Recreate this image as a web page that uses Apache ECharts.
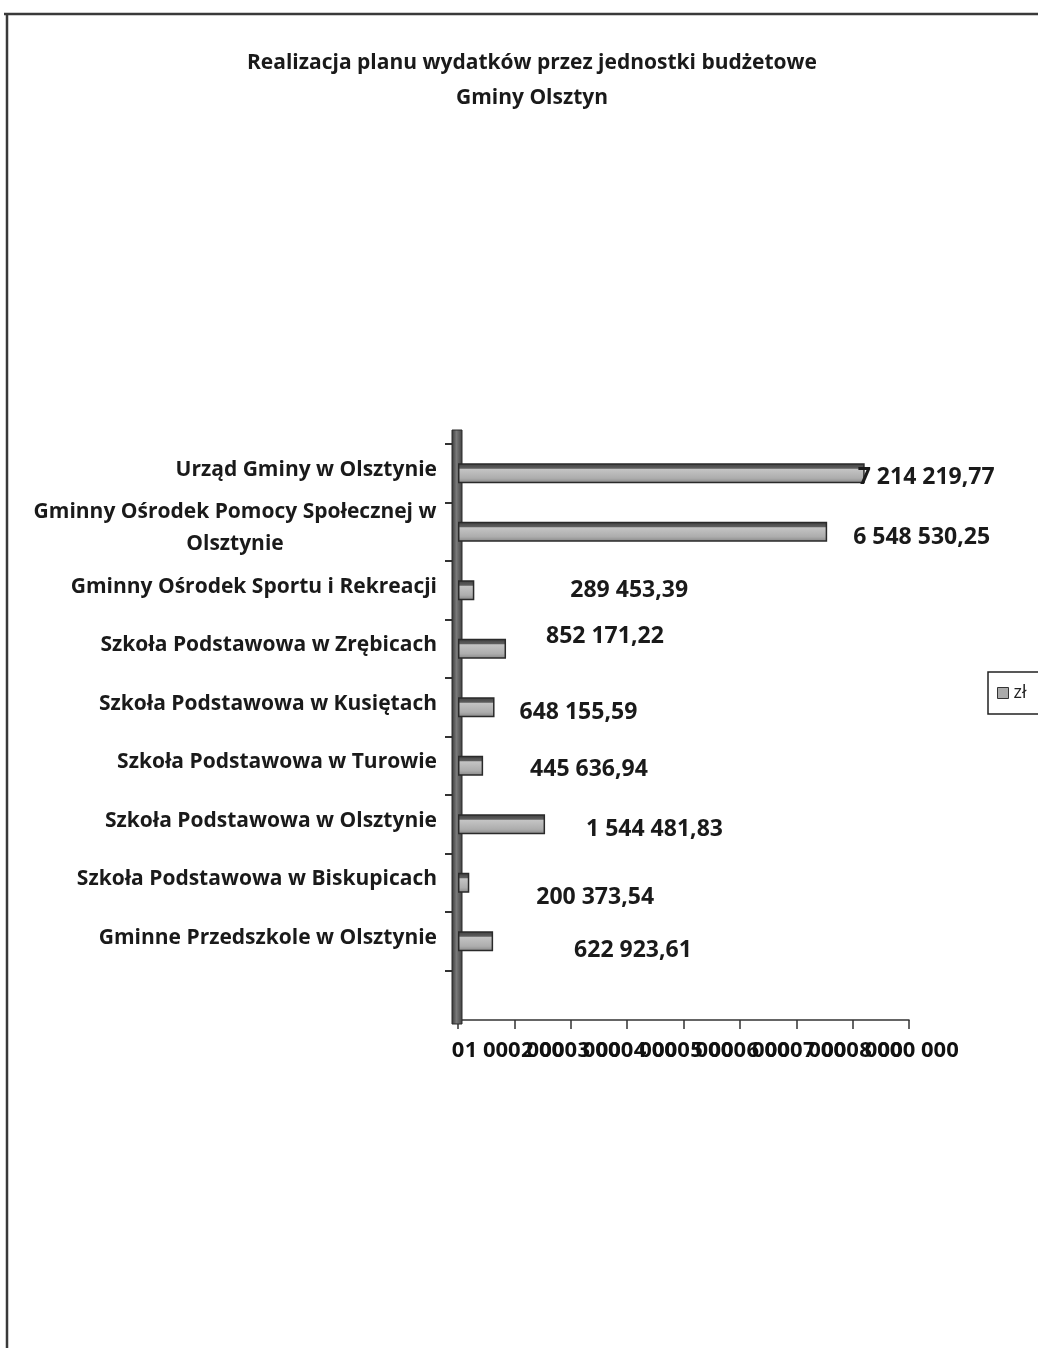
<!DOCTYPE html>
<html>
<head>
<meta charset="utf-8">
<script src="https://cdn.jsdelivr.net/npm/echarts@6/dist/echarts.min.js"></script>
<style>
html,body{margin:0;padding:0;background:#fff;}
#chart{width:1038px;height:1348px;}
</style>
</head>
<body>
<div id="chart"></div>
<script>
// ---- data ----
const titleLines = ['Realizacja planu wydatków przez jednostki budżetowe', 'Gminy Olsztyn'];
const categories = [
  'Urząd Gminy w Olsztynie',
  'Gminny Ośrodek Pomocy Społecznej w Olsztynie',
  'Gminny Ośrodek Sportu i Rekreacji',
  'Szkoła Podstawowa w Zrębicach',
  'Szkoła Podstawowa w Kusiętach',
  'Szkoła Podstawowa w Turowie',
  'Szkoła Podstawowa w Olsztynie',
  'Szkoła Podstawowa w Biskupicach',
  'Gminne Przedszkole w Olsztynie'
];
const values = [7214219.77, 6548530.25, 289453.39, 852171.22, 648155.59, 445636.94, 1544481.83, 200373.54, 622923.61];
const seriesName = 'zł';
const axisMin = 0, axisMax = 8000000, axisStep = 1000000;

// ---- layout (label nudges, as in the original Excel 3D chart) ----
const labelNudges = [[-7,4],[26,6],[96,0],[40,-12],[25,5],[47,4],[41,5],[67,15],[81,9]];

function grp(intStr){ return intStr.replace(/\B(?=(\d{3})+(?!\d))/g, ' '); }
function fmtPL(v){ const p = v.toFixed(2).split('.'); return grp(p[0]) + ',' + p[1]; }

const FONT = '"Open Sans", sans-serif';

// The original tick labels overlap each other; two axes (even / odd ticks) keep
// ECharts from dropping any of them.
function xAxisDef(parity, main) {
  return {
    type: 'value', min: axisMin, max: axisMax, interval: axisStep,
    position: 'bottom', offset: 49.5,
    axisLine: {show: main, lineStyle: {color: '#333', width: 1.5}},
    axisTick: {show: main, length: 9, lineStyle: {color: '#333', width: 1.5}},
    splitLine: {show: false},
    axisLabel: {
      margin: 20,
      showMinLabel: true, showMaxLabel: true, hideOverlap: false,
      fontFamily: FONT, fontWeight: 'bold', fontSize: 22, color: '#111',
      formatter: v => (Math.round(v / axisStep) % 2 === parity) ? grp(String(Math.round(v))) : ''
    }
  };
}

const chart = echarts.init(document.getElementById('chart'), null, {renderer:'canvas'});
chart.setOption({
  backgroundColor: '#ffffff',
  animation: false,
  title: {
    text: titleLines.join('\n'),
    left: 527, top: 41, textAlign: 'center',
    textStyle: {fontFamily: FONT, fontWeight: 'bold', fontSize: 21, lineHeight: 35, color: '#1a1a1a'}
  },
  legend: {
    left: 988, top: 672,
    orient: 'vertical',
    padding: [12, 24, 12, 9],
    itemWidth: 11, itemHeight: 11,
    borderColor: '#222', borderWidth: 1.5,
    icon: 'rect',
    textStyle: {fontFamily: FONT, fontSize: 18, color: '#222'},
    data: [{name: seriesName, itemStyle: {color: '#aaa', borderColor: '#333', borderWidth: 1}}]
  },
  grid: {left: 458, right: 129, top: 444, bottom: 377.5, containLabel: false},
  xAxis: [xAxisDef(0, true), xAxisDef(1, false)],
  yAxis: {
    type: 'category', inverse: true, data: categories,
    axisLine: {show: false},
    axisTick: {show: true, length: 13, lineStyle: {color: '#333', width: 2}},
    axisLabel: {
      margin: 21,
      padding: [0, 0, 7, 0],
      fontFamily: FONT, fontWeight: 'bold', fontSize: 21, color: '#1a1a1a',
      formatter: function (name) {
        if (name.length <= 36) return name;
        const words = name.split(' ');
        let l1 = '', i = 0;
        while (i < words.length && (l1 + ' ' + words[i]).trim().length <= 34) { l1 = (l1 + ' ' + words[i]).trim(); i++; }
        const l2 = words.slice(i).join(' ');
        return '{c|' + l1 + '}\n{c|' + l2 + '}';
      },
      rich: {c: {width: 404, align: 'center', fontFamily: FONT, fontWeight: 'bold', fontSize: 21, lineHeight: 32, color: '#1a1a1a'}}
    }
  },
  graphic: [
    {type: 'line', shape: {x1: 4, y1: 14, x2: 1038, y2: 14}, style: {stroke: '#3a3a3a', lineWidth: 2.5}, z: 10},
    {type: 'line', shape: {x1: 7, y1: 14, x2: 7, y2: 1348}, style: {stroke: '#3a3a3a', lineWidth: 2.5}, z: 10},
    {type: 'rect', shape: {x: 452, y: 430, width: 10, height: 594},
      style: {fill: new echarts.graphic.LinearGradient(0, 0, 1, 0, [
        {offset: 0, color: '#333333'}, {offset: 0.45, color: '#7a7a7a'}, {offset: 1, color: '#404040'}]),
        stroke: '#2a2a2a', lineWidth: 1}, z: 1}
  ],
  series: [{
    name: seriesName,
    type: 'bar',
    xAxisIndex: 0,
    barWidth: 20,
    z: 5,
    data: values.map((v, i) => ({
      value: v,
      label: {offset: labelNudges[i]}
    })),
    itemStyle: {
      color: new echarts.graphic.LinearGradient(0, 0, 0, 1, [
        {offset: 0, color: '#3e3e3e'}, {offset: 0.25, color: '#5e5e5e'},
        {offset: 0.3, color: '#c4c4c4'}, {offset: 0.75, color: '#adadad'}, {offset: 1, color: '#858585'}]),
      borderColor: '#2a2a2a', borderWidth: 1.5
    },
    label: {
      show: true, position: 'right', distance: 0,
      fontFamily: FONT, fontWeight: 'bold', fontSize: 23, color: '#1a1a1a',
      formatter: p => fmtPL(p.value)
    }
  }]
});
</script>
</body>
</html>
